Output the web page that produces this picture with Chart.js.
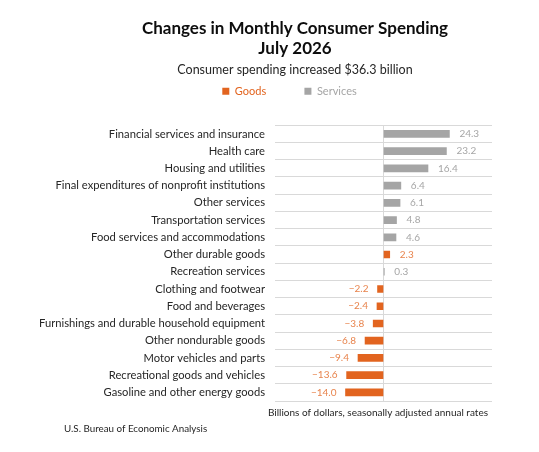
<!DOCTYPE html>
<html>
<head>
<meta charset="utf-8">
<script src="https://cdn.jsdelivr.net/npm/chart.js@4.4.0/dist/chart.umd.min.js"></script>
<style>
  html, body { margin: 0; padding: 0; background: #fff; }
  #wrap { width: 539px; height: 452px; }
</style>
</head>
<body>
<div id="wrap"><canvas id="spendChart" width="539" height="452"></canvas></div>
<script>
// categories top to bottom, as in the chart
const categories = [
    'Financial services and insurance',
    'Health care',
    'Housing and utilities',
    'Final expenditures of nonprofit institutions',
    'Other services',
    'Transportation services',
    'Food services and accommodations',
    'Other durable goods',
    'Recreation services',
    'Clothing and footwear',
    'Food and beverages',
    'Furnishings and durable household equipment',
    'Other nondurable goods',
    'Motor vehicles and parts',
    'Recreational goods and vehicles',
    'Gasoline and other energy goods'
];

// billions of dollars, null where the row belongs to the other group
const goodsValues = [null, null, null, null, null, null, null, 2.3, null, -2.2, -2.4, -3.8, -6.8, -9.4, -13.6, -14.0];
const servicesValues = [24.3, 23.2, 16.4, 6.4, 6.1, 4.8, 4.6, null, 0.3, null, null, null, null, null, null, null];

const orange = '#e2641f';
const gray = '#a5a5a5';
const FONT = 'Lato';

// value labels next to each bar
const valueLabels = {
    id: 'valueLabels',
    afterDatasetsDraw(chart) {
        const c = chart.ctx;
        c.save();
        c.font = '10px ' + FONT;
        c.textBaseline = 'middle';
        chart.data.datasets.forEach((ds, i) => {
            const meta = chart.getDatasetMeta(i);
            c.fillStyle = ds.labelColor;
            meta.data.forEach((bar, j) => {
                const v = ds.data[j];
                if (v === null) return;
                let txt = Math.abs(v).toFixed(1);
                if (v < 0) {
                    txt = '\u2212' + txt;
                    c.textAlign = 'right';
                    c.fillText(txt, bar.x - 9, bar.y);
                } else {
                    c.textAlign = 'left';
                    c.fillText(txt, bar.x + 10, bar.y);
                }
            });
        });
        c.restore();
    }
};

// notes under the plot
const footNotes = {
    id: 'footNotes',
    afterDraw(chart) {
        const c = chart.ctx;
        c.save();
        c.fillStyle = '#262626';
        c.textBaseline = 'middle';
        c.font = '10px ' + FONT;
        c.textAlign = 'right';
        c.fillText('Billions of dollars, seasonally adjusted annual rates', 488, 413);
        c.font = '9.8px ' + FONT;
        c.textAlign = 'left';
        c.fillText('U.S. Bureau of Economic Analysis', 64, 429);
        c.restore();
    }
};

new Chart(document.getElementById('spendChart'), {
    type: 'bar',
    data: {
        labels: categories,
        datasets: [
            // trailing spaces only widen the legend gaps
            { label: 'Goods\u2003\u2003\u2003\u2002', data: goodsValues, backgroundColor: orange, labelColor: '#e8844d', barThickness: 7 },
            { label: 'Services\u2002\u2002', data: servicesValues, backgroundColor: gray, labelColor: '#a6a6a6', barThickness: 7 }
        ]
    },
    options: {
        indexAxis: 'y',
        responsive: false,
        animation: false,
        // negative right padding keeps the titles centred where the original has them
        layout: { padding: { left: 30, right: -21, top: 12, bottom: 51 } },
        scales: {
            x: {
                min: -40,
                max: 40,
                ticks: { display: false, stepSize: 10 },
                grid: {
                    drawTicks: false,
                    color: ctx => (ctx.tick && ctx.tick.value === 0) ? '#d9d9d9' : 'rgba(0,0,0,0)'
                },
                border: { display: false }
            },
            xTop: {
                type: 'linear',
                position: 'top',
                display: true,
                afterFit(scale) { scale.height = 18.5; },
                ticks: { display: false },
                grid: { display: false, drawTicks: false },
                border: { display: false }
            },
            y: {
                stacked: true,
                afterFit(scale) { scale.width = 245; },
                ticks: { color: '#262626', font: { family: FONT, size: 11.2 }, padding: 10, autoSkip: false },
                grid: { color: '#d9d9d9', drawTicks: false, offset: true },
                border: { display: false }
            },
            yRight: {
                type: 'category',
                position: 'right',
                display: true,
                afterFit(scale) { scale.width = 68; },
                ticks: { display: false },
                grid: { display: false, drawTicks: false },
                border: { display: false }
            }
        },
        plugins: {
            title: {
                display: true,
                text: ['Changes in Monthly Consumer Spending', 'July 2026'],
                color: '#0d0d0d',
                font: { family: FONT, size: 17, weight: 'bold', lineHeight: 1.2 },
                padding: { top: 6, bottom: 0 }
            },
            subtitle: {
                display: true,
                text: 'Consumer spending increased $36.3 billion',
                color: '#262626',
                font: { family: FONT, size: 12.5, lineHeight: 1.2 },
                padding: { top: 4, bottom: 0 }
            },
            legend: {
                display: true,
                labels: {
                    boxWidth: 7,
                    boxHeight: 7,
                    padding: 8,
                    font: { family: FONT, size: 11 },
                    generateLabels(chart) {
                        return chart.data.datasets.map((ds, i) => ({
                            text: ds.label,
                            fillStyle: ds.backgroundColor,
                            strokeStyle: ds.backgroundColor,
                            lineWidth: 0,
                            fontColor: ds.backgroundColor,
                            datasetIndex: i,
                            hidden: false
                        }));
                    }
                }
            },
            tooltip: { enabled: false }
        }
    },
    plugins: [valueLabels, footNotes]
});
</script>
</body>
</html>
